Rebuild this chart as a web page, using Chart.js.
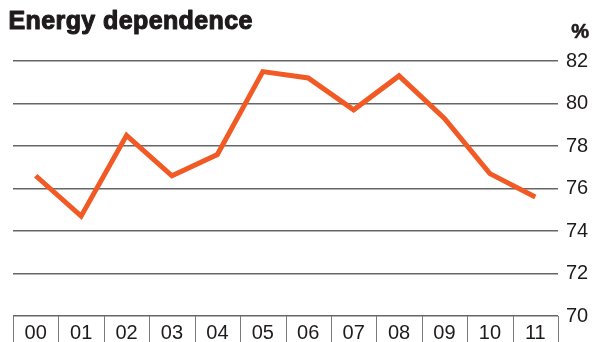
<!DOCTYPE html>
<html>
<head>
<meta charset="utf-8">
<script src="https://cdn.jsdelivr.net/npm/chart.js@4/dist/chart.umd.min.js"></script>
<style>
  html, body { margin: 0; padding: 0; background: #fff; }
  #wrap { position: relative; width: 592px; height: 342px; }
</style>
</head>
<body>
<div id="wrap"><canvas id="c" width="592" height="342"></canvas></div>
<script>
// Energy dependence, % (2000–2011)
const years = ['00', '01', '02', '03', '04', '05', '06', '07', '08', '09', '10', '11'];
const dependence = [76.6, 74.7, 78.5, 76.6, 77.6, 81.5, 81.2, 79.7, 81.3, 79.3, 76.7, 75.6];
const yTicks = [70, 72, 74, 76, 78, 80, 82];

const FONT = '"Liberation Sans", Arial, Helvetica, sans-serif';

// Title, unit label and the year separators below the axis
const decorations = {
  id: 'decorations',
  afterDraw(chart) {
    const ctx = chart.ctx;
    const area = chart.chartArea;
    ctx.save();
    ctx.fillStyle = '#1f1b1c';
    ctx.strokeStyle = '#1f1b1c';
    ctx.textBaseline = 'alphabetic';
    ctx.textAlign = 'left';
    ctx.font = 'bold 25px ' + FONT;
    ctx.letterSpacing = '0.4px';
    ctx.lineWidth = 1.1;
    ctx.lineJoin = 'round';
    ctx.fillText('Energy dependence', 8.5, 29);
    ctx.strokeText('Energy dependence', 8.5, 29);
    ctx.letterSpacing = '0px';
    ctx.textAlign = 'right';
    ctx.font = 'bold 20px ' + FONT;
    ctx.lineWidth = 0.6;
    ctx.fillText('%', 589, 38);
    ctx.strokeText('%', 589, 38);

    // vertical separators between the year boxes
    const n = years.length;
    const w = (area.right - area.left) / n;
    ctx.strokeStyle = '#7a7a7a';
    ctx.lineWidth = 1;
    for (let i = 0; i <= n; i++) {
      const x = Math.round(area.left + i * w) + 0.5;
      ctx.beginPath();
      ctx.moveTo(x, area.bottom);
      ctx.lineTo(x, chart.height);
      ctx.stroke();
    }
    ctx.restore();
  }
};

new Chart(document.getElementById('c'), {
  type: 'line',
  data: {
    labels: years,
    datasets: [{
      data: dependence,
      borderColor: '#f15a24',
      borderWidth: 5,
      pointRadius: 0,
      tension: 0,
      borderCapStyle: 'butt',
      borderJoinStyle: 'miter'
    }]
  },
  options: {
    responsive: false,
    animation: false,
    devicePixelRatio: 1,
    layout: { padding: { left: 13, top: 61, right: 0, bottom: 0 } },
    plugins: { legend: { display: false }, tooltip: { enabled: false }, title: { display: false } },
    scales: {
      x: {
        offset: true,
        grid: { display: false, drawOnChartArea: false, drawTicks: false },
        border: { display: false },
        ticks: { color: '#1f1b1c', font: { family: FONT, size: 20 }, padding: 5, maxRotation: 0, autoSkip: false },
        afterFit(scale) { scale.height = 26; }
      },
      y: {
        position: 'right',
        min: 70,
        max: 82,
        afterBuildTicks(scale) { scale.ticks = yTicks.map(v => ({ value: v })); },
        grid: { color: '#666666', lineWidth: 1.6, drawTicks: false },
        border: { display: false },
        ticks: { color: '#1f1b1c', font: { family: FONT, size: 20 }, padding: 8 },
        afterFit(scale) { scale.width = 34; }
      }
    }
  },
  plugins: [decorations]
});
</script>
</body>
</html>
